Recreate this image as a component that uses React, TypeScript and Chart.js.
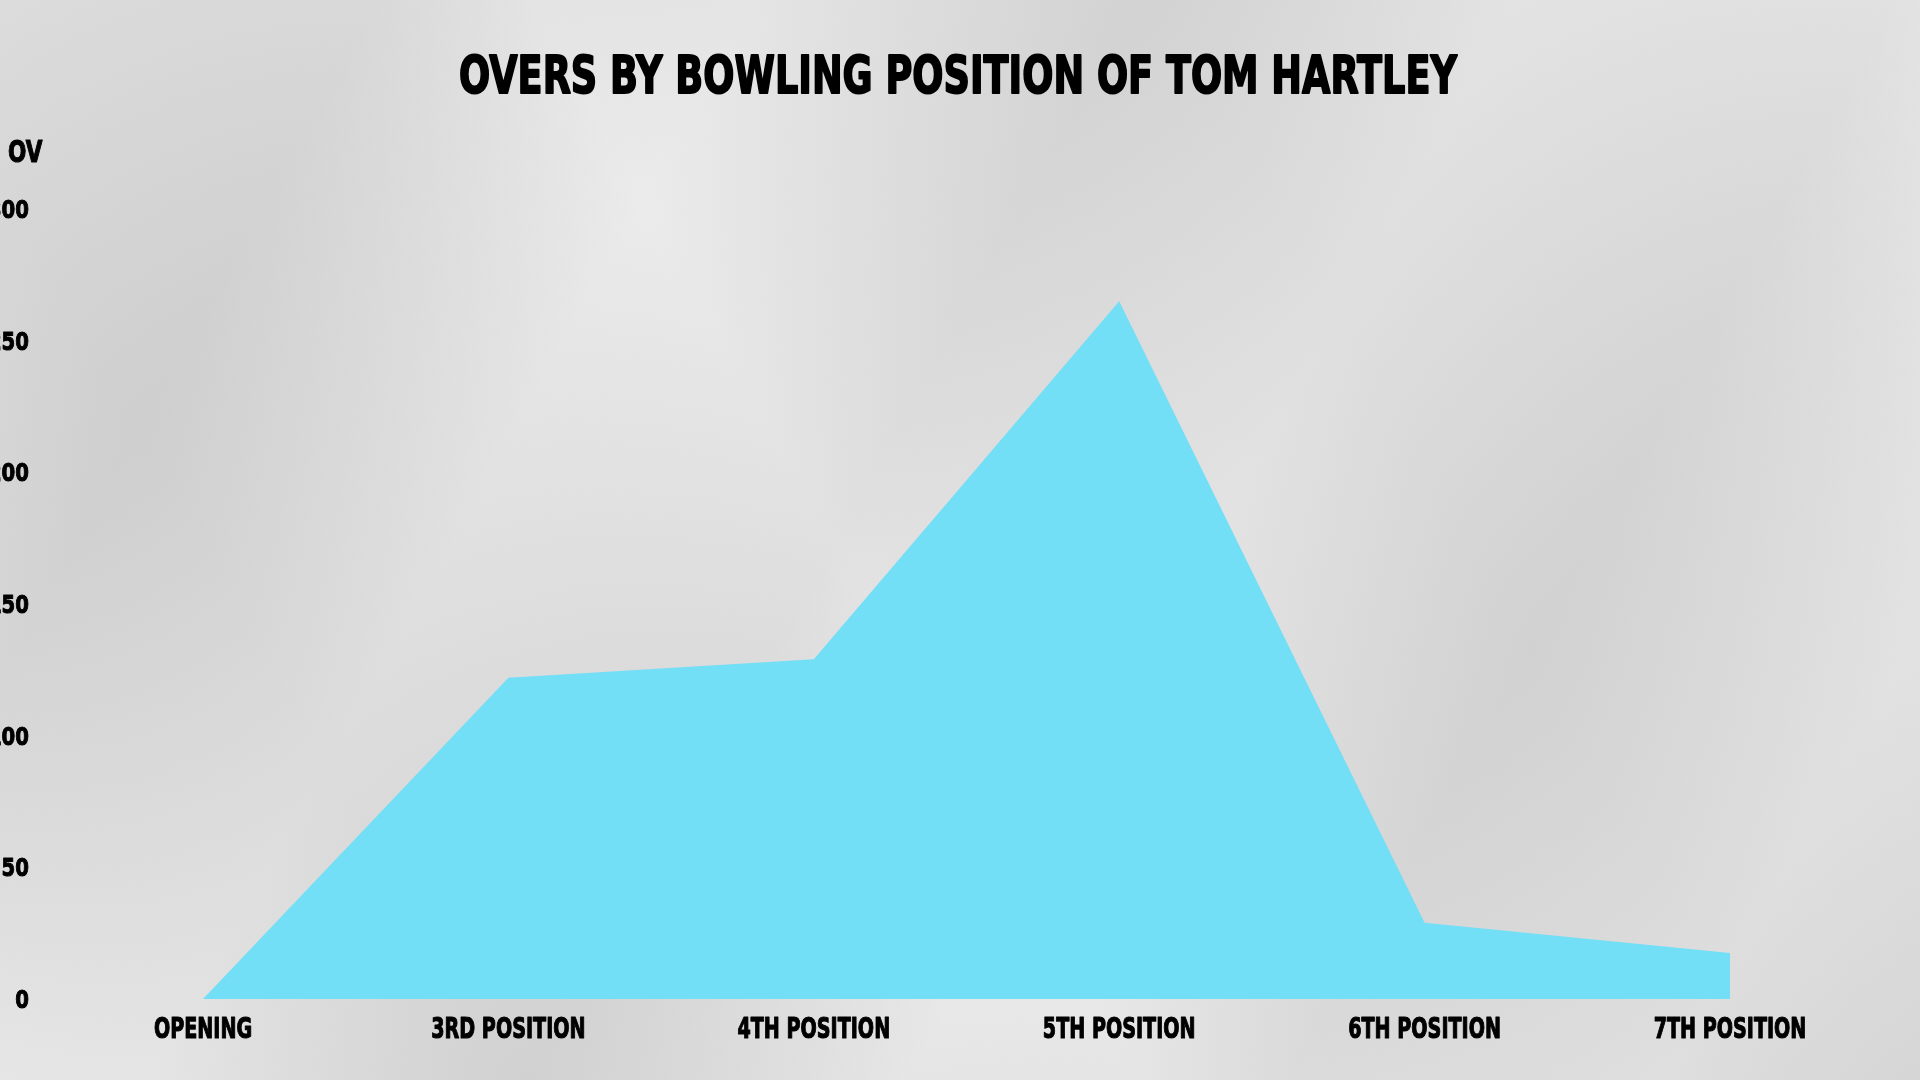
import React, { useEffect, useRef } from "react";
import { Chart, registerables } from "chart.js";

Chart.register(...registerables);

const categories = ["OPENING", "3RD POSITION", "4TH POSITION", "5TH POSITION", "6TH POSITION", "7TH POSITION"];
const overs = [0, 122, 129, 265, 29, 17.5];
const yTicks = [0, 50, 100, 150, 200, 250, 300];
const yMin = 0;
const yMax = 300;
const titleText = "OVERS BY BOWLING POSITION OF TOM HARTLEY";
const yAxisLabel = "OV";

const FONT = "'DejaVu Sans', sans-serif";

function drawCondensed(ctx: any, text: string, x: number, y: number, align: string, sx: number, stroke: number) {
  ctx.save();
  ctx.translate(x, y);
  ctx.scale(sx, 1);
  ctx.textAlign = align;
  ctx.textBaseline = "alphabetic";
  ctx.fillText(text, 0, 0);
  if (stroke > 0) {
    ctx.lineWidth = stroke;
    ctx.lineJoin = "round";
    ctx.strokeStyle = "#000";
    ctx.strokeText(text, 0, 0);
  }
  ctx.restore();
}

const paperPlugin = {
  id: "paper",
  beforeDraw(chart: any) {
    const { ctx, width, height } = chart;
    ctx.save();
    const g = ctx.createLinearGradient(0, 0, width, height);
    g.addColorStop(0, "#e4e4e4");
    g.addColorStop(0.15, "#d6d6d6");
    g.addColorStop(0.3, "#e6e6e6");
    g.addColorStop(0.45, "#d9d9d9");
    g.addColorStop(0.6, "#e8e8e8");
    g.addColorStop(0.75, "#d8d8d8");
    g.addColorStop(0.9, "#e6e6e6");
    g.addColorStop(1, "#dcdcdc");
    ctx.fillStyle = g;
    ctx.fillRect(0, 0, width, height);
    const g2 = ctx.createLinearGradient(width, 0, 0, height);
    g2.addColorStop(0, "rgba(255,255,255,0.25)");
    g2.addColorStop(0.3, "rgba(160,160,160,0.12)");
    g2.addColorStop(0.55, "rgba(255,255,255,0.2)");
    g2.addColorStop(0.8, "rgba(150,150,150,0.12)");
    g2.addColorStop(1, "rgba(255,255,255,0.2)");
    ctx.fillStyle = g2;
    ctx.fillRect(0, 0, width, height);
    ctx.restore();
  },
};

const textPlugin = {
  id: "customText",
  afterDraw(chart: any) {
    const { ctx } = chart;
    const xs = chart.scales.x;
    const ys = chart.scales.y;
    ctx.save();
    ctx.fillStyle = "#000";

    // Title
    ctx.font = `bold 52px ${FONT}`;
    const w = ctx.measureText(titleText).width;
    drawCondensed(ctx, titleText, 958, 93, "center", 998 / w, 2);

    // Y axis label
    ctx.font = `bold 30px ${FONT}`;
    drawCondensed(ctx, yAxisLabel, 8, 162, "left", 0.72, 1.2);

    // X tick labels
    ctx.font = `bold 29px ${FONT}`;
    categories.forEach((label, i) => {
      const x = xs.getPixelForValue(i);
      drawCondensed(ctx, label, x, 1038, "center", 0.66, 1.2);
    });

    // Y tick labels
    ctx.font = `bold 24px ${FONT}`;
    yTicks.forEach((v) => {
      const y = ys.getPixelForValue(v);
      drawCondensed(ctx, String(v), 29, y + 9, "right", 0.82, 1);
    });
    ctx.restore();
  },
};

export default function App() {
  const ref = useRef<HTMLCanvasElement>(null);
  useEffect(() => {
    if (!ref.current) return;
    const chart = new Chart(ref.current, {
      type: "line",
      data: {
        labels: categories,
        datasets: [
          {
            data: overs,
            fill: "origin",
            backgroundColor: "#72dff6",
            borderWidth: 0,
            borderColor: "rgba(0,0,0,0)",
            pointRadius: 0,
            tension: 0,
          },
        ],
      },
      options: {
        responsive: true,
        maintainAspectRatio: false,
        animation: false,
        layout: { padding: { top: 209, left: 203, right: 190, bottom: 81 } },
        plugins: {
          legend: { display: false },
          title: { display: false },
          tooltip: { enabled: false },
        },
        scales: {
          x: {
            display: false,
            offset: false,
          },
          y: {
            display: false,
            min: yMin,
            max: yMax,
          },
        },
      },
      plugins: [paperPlugin, textPlugin],
    });
    return () => chart.destroy();
  }, []);
  return (
    <div style={{ position: "fixed", left: 0, top: 0, width: 1920, height: 1080 }}>
      <canvas ref={ref} />
    </div>
  );
}
